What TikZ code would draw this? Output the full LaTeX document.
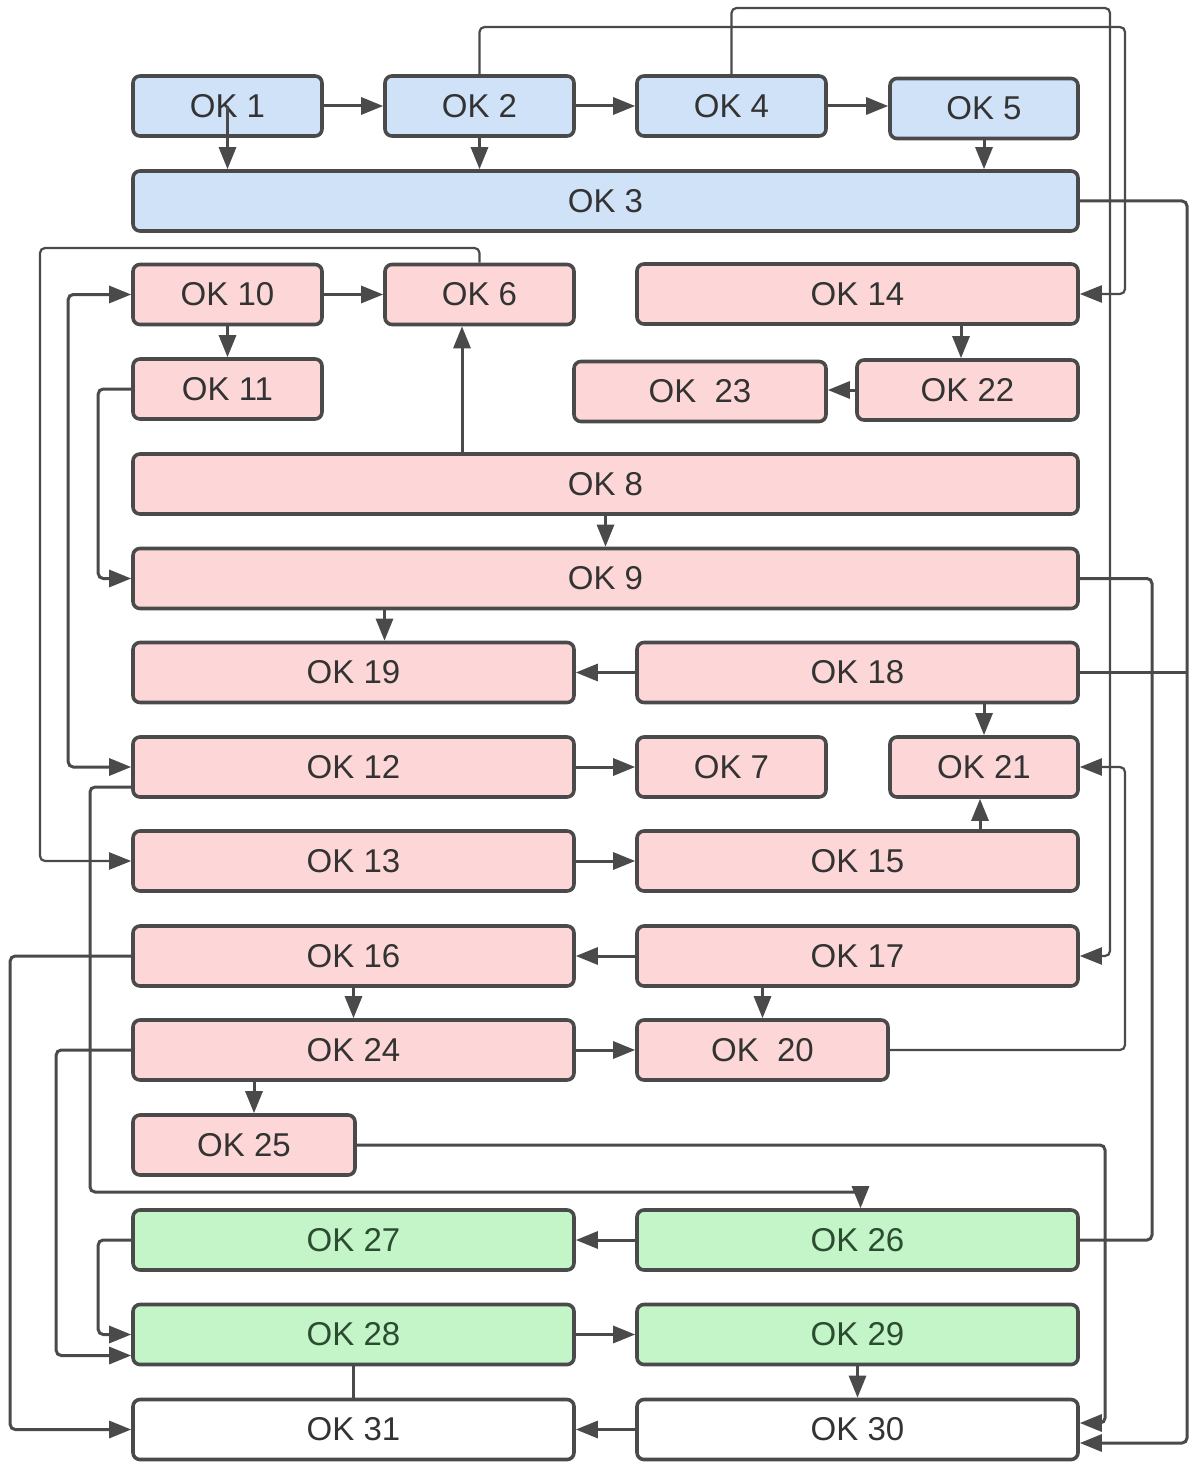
\documentclass[tikz,border=0pt]{standalone}
\usepackage{fontspec}
\setmainfont{Liberation Sans}
\usetikzlibrary{arrows.meta}

\definecolor{okline}{HTML}{4A4A4A}
\definecolor{oktext}{HTML}{333333}
\definecolor{okblue}{HTML}{CFE2F8}
\definecolor{okpink}{HTML}{FDD7D7}
\definecolor{okgreen}{HTML}{C3F5C8}
\definecolor{okgtext}{HTML}{2C4C31}

\begin{document}
\begin{tikzpicture}[x=0.5pt,y=-0.5pt,
  box/.style={draw=okline,line width=1.8pt,rounded corners=3.5pt,minimum height=30pt,
    inner sep=0pt,font=\fontsize{16.5}{18}\selectfont,text=oktext},
  bluebox/.style={box,fill=okblue},
  pinkbox/.style={box,fill=okpink},
  greenbox/.style={box,fill=okgreen,text=okgtext},
  whitebox/.style={box,fill=white},
  wa/.style={minimum width=94.5pt},
  wb/.style={minimum width=220.5pt},
  wc/.style={minimum width=472.5pt},
  link/.style={draw=okline,line width=1.5pt,-{Triangle[length=11pt,width=8.5pt]}},
  plain/.style={draw=okline,line width=1.5pt},
  route/.style={rounded corners=2.5pt},
  fine/.style={line width=1.1pt}]
\useasboundingbox (0,0) rectangle (1193,1466);

% top row
\node[bluebox,wa] (ok1) at (227.5,106) {OK 1};
\node[bluebox,wa] (ok2) at (479.5,106) {OK 2};
\node[bluebox,wa] (ok4) at (731.5,106) {OK 4};
\node[bluebox,minimum width=94pt] (ok5) at (984,108.5) {OK 5};
\node[bluebox,wc] (ok3) at (605.5,201) {OK 3};

% middle block
\node[pinkbox,wa] (ok10) at (227.5,294.5) {OK 10};
\node[pinkbox,wa] (ok6) at (479.5,294.5) {OK 6};
\node[pinkbox,wb] (ok14) at (857.5,294) {OK 14};
\node[pinkbox,wa] (ok11) at (227.5,389) {OK 11};
\node[pinkbox,minimum width=126pt] (ok23) at (700,391.5) {OK\ \ 23};
\node[pinkbox,minimum width=110.5pt] (ok22) at (967.5,390) {OK 22};
\node[pinkbox,wc] (ok8) at (605.5,484) {OK 8};
\node[pinkbox,wc] (ok9) at (605.5,578.5) {OK 9};
\node[pinkbox,wb] (ok19) at (353.5,672.5) {OK 19};
\node[pinkbox,wb] (ok18) at (857.5,672.5) {OK 18};
\node[pinkbox,wb] (ok12) at (353.5,767) {OK 12};
\node[pinkbox,wa] (ok7) at (731.5,767) {OK 7};
\node[pinkbox,minimum width=94pt] (ok21) at (984,767) {OK 21};
\node[pinkbox,wb] (ok13) at (353.5,861) {OK 13};
\node[pinkbox,wb] (ok15) at (857.5,861) {OK 15};
\node[pinkbox,wb] (ok16) at (353.5,956) {OK 16};
\node[pinkbox,wb] (ok17) at (857.5,956) {OK 17};
\node[pinkbox,wb] (ok24) at (353.5,1050) {OK 24};
\node[pinkbox,minimum width=125.5pt] (ok20) at (762.5,1050) {OK\ \ 20};
\node[pinkbox,minimum width=111pt] (ok25) at (244,1145) {OK 25};

% bottom block
\node[greenbox,wb] (ok27) at (353.5,1240) {OK 27};
\node[greenbox,wb] (ok26) at (857.5,1240) {OK 26};
\node[greenbox,wb] (ok28) at (353.5,1334.5) {OK 28};
\node[greenbox,wb] (ok29) at (857.5,1334.5) {OK 29};
\node[whitebox,wb] (ok31) at (353.5,1429.5) {OK 31};
\node[whitebox,wb] (ok30) at (857.5,1429.5) {OK 30};

% lanes
\coordinate (laneA) at (1110,8);
\coordinate (laneB) at (1125,27);
\coordinate (laneC) at (1152,582);
\coordinate (laneL) at (40,248);
\coordinate (laneF) at (90,1192);
\coordinate (c30a) at (1105,1423);
\coordinate (c30b) at (1187,1443);
\coordinate (t6) at ([xshift=-8.75pt]ok6.south);
\coordinate (t22) at ([xshift=-3.25pt]ok22.north);
\coordinate (t19) at ([xshift=15.5pt]ok19.north);
\coordinate (t21) at ([xshift=-2pt]ok21.south);
\coordinate (t25) at ([xshift=5pt]ok25.north);
\coordinate (t26) at ([xshift=1.5pt]ok26.north);

% short links
\draw[link] (ok1.east) -- (ok2.west);
\draw[link] (ok2.east) -- (ok4.west);
\draw[link] (ok4.east) -- (ok4.east -| ok5.west);
\draw[link] (ok1.center) -- (ok1.center |- ok3.north);
\draw[link] (ok2.south) -- (ok2.south |- ok3.north);
\draw[link] (ok5.south) -- (ok5.south |- ok3.north);
\draw[link] (ok10.east) -- (ok6.west);
\draw[link] (ok10.south) -- (ok11.north);
\draw[link] (ok8.north -| t6) -- (t6);
\draw[link] (ok14.south -| t22) -- (t22);
\draw[link] (ok22.west) -- (ok22.west -| ok23.east);
\draw[link] (ok8.south) -- (ok9.north);
\draw[link] (ok9.south -| t19) -- (t19);
\draw[link] (ok18.west) -- (ok19.east);
\draw[link] (ok18.south -| ok21.north) -- (ok21.north);
\draw[link] (ok12.east) -- (ok7.west);
\draw[link] (ok15.north -| t21) -- (t21);
\draw[link] (ok13.east) -- (ok15.west);
\draw[link] (ok17.west) -- (ok16.east);
\draw[link] (ok17.south -| ok20.north) -- (ok20.north);
\draw[link] (ok16.south) -- (ok24.north);
\draw[link] (ok24.east) -- (ok20.west);
\draw[link] (ok24.south -| t25) -- (t25);
\draw[link] (ok26.west) -- (ok27.east);
\draw[link] (ok28.east) -- (ok29.west);
\draw[link] (ok29.south) -- (ok30.north);
\draw[link] (ok30.west) -- (ok31.east);
\draw[plain] (ok28.south) -- (ok31.north);

% long routes
\draw[link,route,fine] (ok4.north) |- (laneA) |- (ok17.east);
\draw[link,route,fine] (ok2.north) |- (laneB) |- (ok14.east);
\draw[link,route,fine] (ok6.north) |- (laneL) |- (ok13.west);
\draw[link,route] (ok3.east) -| (c30b) -- (c30b -| ok30.east);
\draw[plain] (ok18.east) -- (ok18.east -| c30b);
\draw[plain,route] (ok9.east) -| (laneC |- ok26.east) -- (ok26.east);
\draw[link,route,fine] (ok20.east) -| (laneB |- ok21.east) -- (ok21.east);
\draw[link,route] (ok25.east) -| (c30a) -- (c30a -| ok30.east);
\draw[link,route] ([yshift=-10pt]ok12.west) -| (laneF) -| (t26);
\draw[link,route,{Triangle[length=11pt,width=8.5pt]}-{Triangle[length=11pt,width=8.5pt]}] (ok10.west) -- ++(-63,0) |- (ok12.west);
\draw[link,route] (ok11.west) -- ++(-33,0) |- (ok9.west);
\draw[link,route] (ok16.west) -- ++(-121,0) |- (ok31.west);
\draw[link,route] (ok24.west) -- ++(-75,0) |- ([yshift=-10.5pt]ok28.west);
\draw[link,route] (ok27.west) -- ++(-33,0) |- (ok28.west);
\end{tikzpicture}
\end{document}
